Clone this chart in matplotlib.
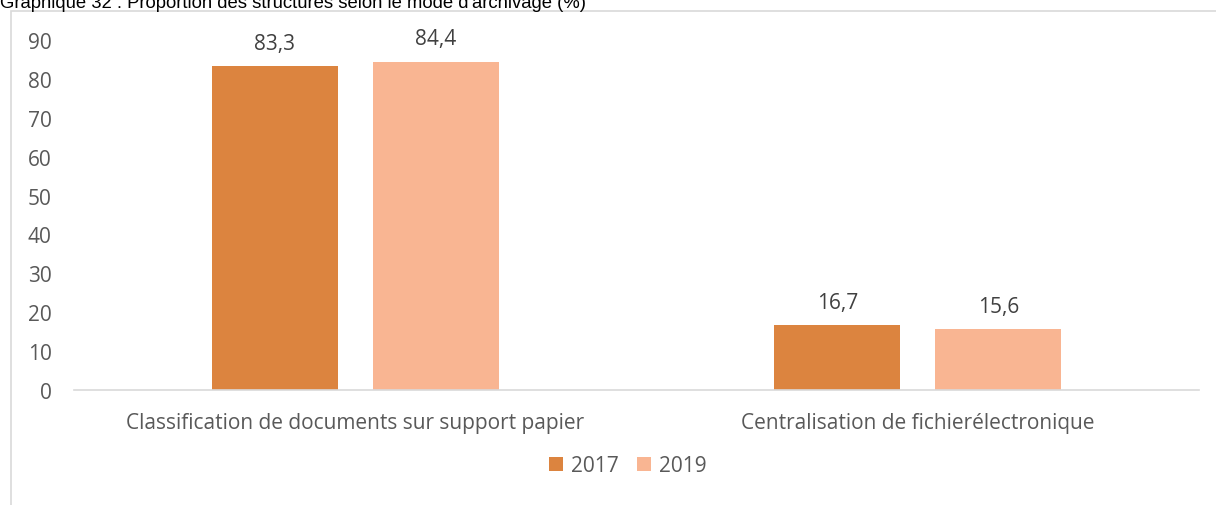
import matplotlib
matplotlib.use('Agg')
import numpy as np
import matplotlib.pyplot as plt
import matplotlib.patches as patches

# données du graphique
categories = ['Classification de documents sur support papier',
              'Centralisation de fichierélectronique']
years = ['2017', '2019']
val_2017 = [83.3, 16.7]
val_2019 = [84.4, 15.6]
yticks = [0, 10, 20, 30, 40, 50, 60, 70, 80, 90]

title = "Graphique 32 : Proportion des structures selon le mode d'archivage (%)"

col_2017 = '#DC843F'
col_2019 = '#F9B592'
txt_col = '#595959'

W, H = 1216, 506
fig = plt.figure(figsize=(W / 100, H / 100), dpi=100)
fig.patch.set_facecolor('white')

# cadre gris du graphique (coupé à droite et en bas)
frame = patches.Rectangle((11 / W, -0.1), 1.2, 1 - 12 / H + 0.1,
                          transform=fig.transFigure, fill=False,
                          edgecolor='#D9D9D9', linewidth=1.2)
fig.add_artist(frame)

# titre coupé en haut
fig.text(0.0, 1 - 8 / H, title, ha='left', va='baseline',
         fontsize=13.3, family=['Liberation Sans', 'DejaVu Sans'], color='black')

ax = fig.add_axes([74 / W, 1 - 391 / H, (1199 - 74) / W, (391 - 41) / H])

x = np.arange(len(categories))
bw = 0.224
off = 0.143
b1 = ax.bar(x - off, val_2017, bw, color=col_2017, label=years[0])
b2 = ax.bar(x + off, val_2019, bw, color=col_2019, label=years[1])

fam = ['Open Sans', 'DejaVu Sans']
fs = 15
for bars, vals in ((b1, val_2017), (b2, val_2019)):
    for b, v in zip(bars, vals):
        ax.annotate(f'{v:.1f}'.replace('.', ','),
                    (b.get_x() + b.get_width() / 2, b.get_height()),
                    xytext=(0, 9), textcoords='offset points',
                    ha='center', va='bottom', fontsize=fs, color='#404040',
                    family=fam)

ax.set_xlim(-0.5, 1.5)
ax.set_ylim(0, 90)
ax.set_yticks(yticks)
ax.set_yticklabels([str(t) for t in yticks], fontsize=fs, color=txt_col, family=fam)
ax.set_xticks(x)
ax.set_xticklabels(categories, fontsize=fs, color=txt_col, family=fam)
ax.tick_params(axis='both', length=0)
ax.tick_params(axis='y', pad=16)
ax.tick_params(axis='x', pad=16)
for s in ('top', 'right', 'left'):
    ax.spines[s].set_visible(False)
ax.spines['bottom'].set_color('#D9D9D9')
ax.spines['bottom'].set_linewidth(1.2)

leg = ax.legend(loc='center', bbox_to_anchor=(628 / W, 1 - 467 / H),
                bbox_transform=fig.transFigure, ncol=2, frameon=False,
                prop={'family': fam, 'size': fs}, handlelength=0.65,
                handleheight=0.65, handletextpad=0.4, columnspacing=0.9)
for t in leg.get_texts():
    t.set_color(txt_col)

fig.savefig('out.png', dpi=100)
